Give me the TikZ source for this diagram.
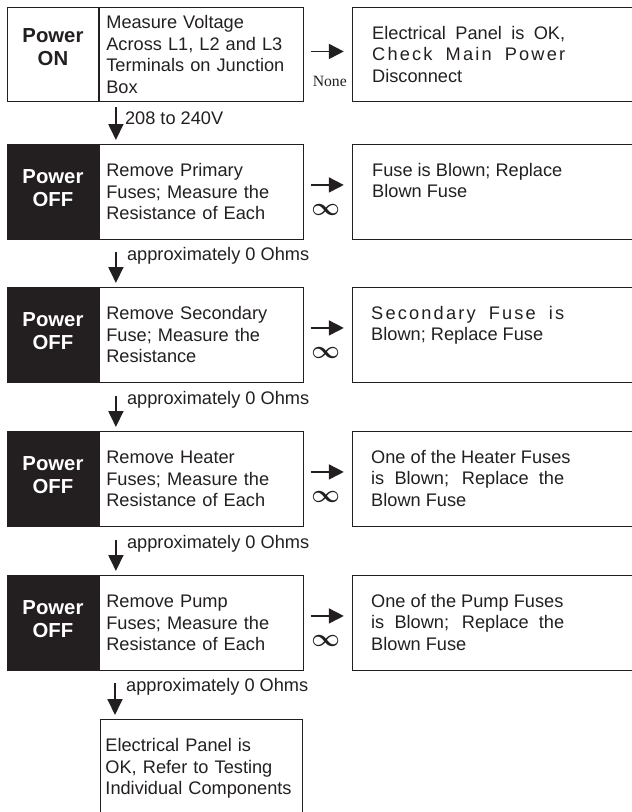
\documentclass[tikz,border=0pt]{standalone}
\usepackage{amsmath}
\usepackage{fontspec}
\setmainfont{Liberation Sans}
\newfontfamily\nonefont{Liberation Serif}
\usetikzlibrary{arrows.meta,calc}
\definecolor{ink}{HTML}{231F20}
% lines set out to the full width of the note column
\newcommand{\fullline}[1]{\makebox[193pt][s]{#1}}
\newcommand{\tracked}[1]{{\addfontfeature{LetterSpace=12}#1}}

\begin{document}
\begin{tikzpicture}[x=1pt,y=-1pt,
  every node/.style={text=ink},
  powerbox/.style={draw=ink, line width=0.9pt, minimum width=91pt, minimum height=95pt,
    anchor=north west, align=center, inner sep=0pt, text depth=7pt,
    font=\fontsize{20.3}{23}\selectfont\bfseries},
  poweroff/.style={powerbox, fill=ink, text=white},
  stepbox/.style={draw=ink, line width=0.9pt, minimum width=204pt, minimum height=95pt,
    anchor=north west, text width=190pt, align=left, inner xsep=5pt,
    font=\fontsize{18.2}{21.5}\selectfont},
  resbox/.style={draw=ink, line width=0.9pt, minimum width=330pt, minimum height=95pt,
    anchor=north west},
  note/.style={anchor=north west, inner sep=0pt, align=left,
    font=\fontsize{18.2}{21.5}\selectfont},
  flow/.style={draw=ink, line width=1.8pt, -{Triangle[length=16pt,width=15pt]}},
  side/.style={draw=ink, line width=1.8pt, -{Triangle[length=15pt,width=15pt]}},
  flowlabel/.style={anchor=west, inner sep=0pt, font=\fontsize{18.2}{21.5}\selectfont},
  openlabel/.style={font=\fontsize{25}{27}\selectfont},
]
\useasboundingbox (0,0) rectangle (632,812);

% Power ON: voltage check
\node[powerbox, minimum height=94pt, text depth=15pt] (power1) at (7,7) {Power\\ON};
\node[stepbox, minimum height=94pt] (step1) at (power1.north east)
  {Measure Voltage\\Across L1, L2 and L3\\Terminals on Junction\\Box};
\node[resbox, minimum height=94pt] (res1) at (352,7) {};
\node[note] (note1) at ($(res1.north west)+(20,19)$)
  {\fullline{Electrical Panel is OK,}\\\fullline{\tracked{Check Main Power}}\\Disconnect};
\draw[side] ($(step1.east)+(7,-3)$) -- ($(step1.east)+(40,-3)$);
\node[font=\nonefont\fontsize{15.7}{18}\selectfont] (none1) at ($(step1.east)+(26,27)$) {None};

% primary fuses
\node[poweroff] (power2) at (7,144) {Power\\OFF};
\node[stepbox] (step2) at (power2.north east)
  {Remove Primary\\Fuses; Measure the\\Resistance of Each};
\node[resbox] (res2) at (352,144) {};
\node[note] (note2) at ($(res2.north west)+(20,19)$)
  {Fuse is Blown; Replace\\Blown Fuse};
\draw[side] ($(step2.east)+(7,-7)$) -- ($(step2.east)+(40,-7)$);
\node[openlabel] (open2) at ($(step2.east)+(22,18)$) {$\boldsymbol{\infty}$};
\draw[flow] ($(step2.north west)+(17,-37)$) -- ($(step2.north west)+(17,-4)$);
\node[flowlabel] (volt) at ($(step2.north west)+(26,-26)$) {208 to 240V};

% secondary fuse
\node[poweroff] (power3) at (7,287) {Power\\OFF};
\node[stepbox] (step3) at (power3.north east)
  {Remove Secondary\\Fuse; Measure the\\Resistance};
\node[resbox] (res3) at (352,287) {};
\node[note] (note3) at ($(res3.north west)+(19,19)$)
  {\fullline{\tracked{Secondary Fuse is}}\\Blown; Replace Fuse};
\draw[side] ($(step3.east)+(7,-7)$) -- ($(step3.east)+(40,-7)$);
\node[openlabel] (open3) at ($(step3.east)+(22,18)$) {$\boldsymbol{\infty}$};
\draw[flow] ($(step3.north west)+(17,-35)$) -- ($(step3.north west)+(17,-4)$);
\node[flowlabel] (ohm2) at ($(step3.north west)+(28,-31)$) {approximately 0 Ohms};

% heater fuses
\node[poweroff] (power4) at (7,431) {Power\\OFF};
\node[stepbox] (step4) at (power4.north east)
  {Remove Heater\\Fuses; Measure the\\Resistance of Each};
\node[resbox] (res4) at (352,431) {};
\node[note] (note4) at ($(res4.north west)+(19,19)$)
  {One of the Heater Fuses\\\fullline{is Blown; Replace the}\\Blown Fuse};
\draw[side] ($(step4.east)+(7,-7)$) -- ($(step4.east)+(40,-7)$);
\node[openlabel] (open4) at ($(step4.east)+(22,18)$) {$\boldsymbol{\infty}$};
\draw[flow] ($(step4.north west)+(17,-35)$) -- ($(step4.north west)+(17,-4)$);
\node[flowlabel] (ohm3) at ($(step4.north west)+(28,-31)$) {approximately 0 Ohms};

% pump fuses
\node[poweroff] (power5) at (7,575) {Power\\OFF};
\node[stepbox] (step5) at (power5.north east)
  {Remove Pump\\Fuses; Measure the\\Resistance of Each};
\node[resbox] (res5) at (352,575) {};
\node[note] (note5) at ($(res5.north west)+(19,19)$)
  {One of the Pump Fuses\\\fullline{is Blown; Replace the}\\Blown Fuse};
\draw[side] ($(step5.east)+(7,-7)$) -- ($(step5.east)+(40,-7)$);
\node[openlabel] (open5) at ($(step5.east)+(22,18)$) {$\boldsymbol{\infty}$};
\draw[flow] ($(step5.north west)+(17,-35)$) -- ($(step5.north west)+(17,-4)$);
\node[flowlabel] (ohm4) at ($(step5.north west)+(28,-31)$) {approximately 0 Ohms};

% panel OK
\node[stepbox, minimum width=202pt, minimum height=98pt, text width=192pt] (done) at (100,719)
  {Electrical Panel is\\OK, Refer to Testing\\Individual Components};
\draw[flow] ($(done.north west)+(15,-36)$) -- ($(done.north west)+(15,-4)$);
\node[flowlabel] (ohm5) at ($(done.north west)+(26,-32)$) {approximately 0 Ohms};
\end{tikzpicture}
\end{document}
